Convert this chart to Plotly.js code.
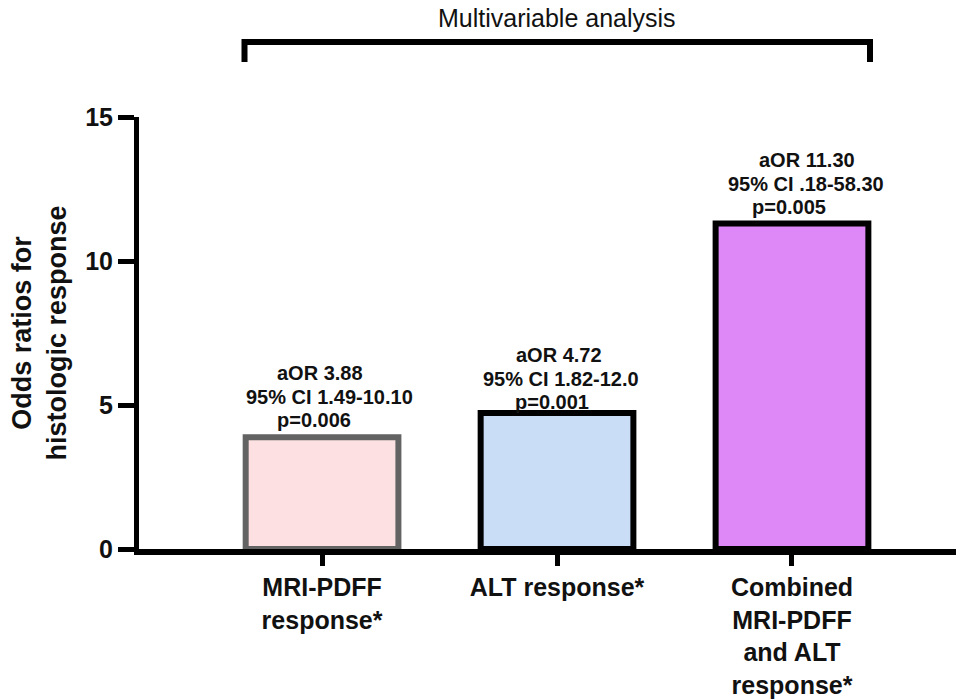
<!DOCTYPE html>
<html>
<head>
<meta charset="utf-8">
<script src="https://cdn.plot.ly/plotly-3.0.1.min.js"></script>
<style>
  html, body { margin: 0; padding: 0; background: #fff; }
  #chart { width: 959px; height: 700px; }
</style>
</head>
<body>
<div id="chart"></div>
<script>
// ---- data ----
const categories = [
  "MRI-PDFF<br>response*",
  "ALT response*",
  "Combined<br>MRI-PDFF<br>and ALT<br>response*"
];
const oddsRatios = [3.88, 4.72, 11.30];
const aorLabels = ["aOR 3.88", "aOR 4.72", "aOR 11.30"];
const ciLabels = ["95% CI 1.49-10.10", "95% CI 1.82-12.0", "95% CI .18-58.30"];
const pLabels = ["p=0.006", "p=0.001", "p=0.005"];
const yTickVals = [0, 5, 10, 15];
const groupTitle = "Multivariable analysis";
const yTitle = "Odds ratios for<br>histologic response";

// ---- styles ----
const fillColors = ["#fde0e1", "#c9ddf6", "#dd88f6"];
const lineColors = ["#636363", "#000000", "#000000"];
const barWidth = 0.65;
const FONT = "Liberation Sans, Arial, sans-serif";
// per-bar label placement tweaks (pixels): [aOR, CI, p] horizontal shifts
const labelLift = [0, -6, 0];
const labelDx = [[-2, 7, -8], [2, 4, -5], [15, 14, -3]];

const xIdx = categories.map((_, i) => i);

const trace = {
  type: "bar",
  x: xIdx,
  y: oddsRatios,
  width: barWidth,
  marker: {
    color: fillColors,
    line: { color: lineColors, width: 6 }
  },
  hoverinfo: "skip"
};

const annotations = [];
oddsRatios.forEach((v, i) => {
  const lines = [aorLabels[i], ciLabels[i], pLabels[i]];
  const shifts = [51, 27, 4];
  lines.forEach((t, k) => {
    annotations.push({
      x: i, y: v, xref: "x", yref: "y",
      text: t, showarrow: false,
      xanchor: "center", yanchor: "bottom",
      xshift: labelDx[i][k],
      yshift: shifts[k] + labelLift[i],
      font: { family: FONT, size: 20, color: "#111", weight: "bold" }
    });
  });
});

const plotTop = 117, plotBottom = 549;
const H = plotBottom - plotTop;
const py = p => (plotBottom - p) / H;

annotations.push({
  x: 1, xref: "x", y: py(18), yref: "paper",
  text: groupTitle, showarrow: false,
  xanchor: "center", yanchor: "middle",
  font: { family: "Liberation Sans Narrow, Arial Narrow, Liberation Sans, Arial, sans-serif", size: 25, color: "#111" }
});

const layout = {
  width: 959,
  height: 700,
  margin: { l: 139, r: 3, t: plotTop, b: 700 - plotBottom, pad: 0 },
  paper_bgcolor: "#fff",
  plot_bgcolor: "#fff",
  showlegend: false,
  bargap: 0,
  xaxis: {
    range: [-0.779, 2.698],
    tickmode: "array",
    tickvals: xIdx,
    ticktext: categories,
    ticks: "outside",
    ticklen: 11,
    tickwidth: 5,
    tickcolor: "#000",
    showline: true,
    linecolor: "#000",
    linewidth: 6,
    showgrid: false,
    zeroline: false,
    tickfont: { family: FONT, size: 25, color: "#111", weight: "bold" },
    fixedrange: true
  },
  yaxis: {
    range: [0, 15],
    tickmode: "array",
    tickvals: yTickVals,
    ticks: "outside",
    ticklen: 16,
    tickwidth: 5,
    tickcolor: "#000",
    showline: true,
    linecolor: "#000",
    linewidth: 5,
    showgrid: false,
    zeroline: false,
    tickfont: { family: FONT, size: 25, color: "#111", weight: "bold" },
    title: {
      text: yTitle,
      font: { family: FONT, size: 27, color: "#111", weight: "bold" },
      standoff: 12
    },
    fixedrange: true
  },
  shapes: [{
    type: "path",
    xref: "x", yref: "paper",
    path: "M -0.33," + py(62) + " L -0.33," + py(42) + " L 2.332," + py(42) + " L 2.332," + py(62),
    line: { color: "#000", width: 6 }
  }],
  annotations: annotations
};

Plotly.newPlot("chart", [trace], layout, { displayModeBar: false, staticPlot: true });
</script>
</body>
</html>
